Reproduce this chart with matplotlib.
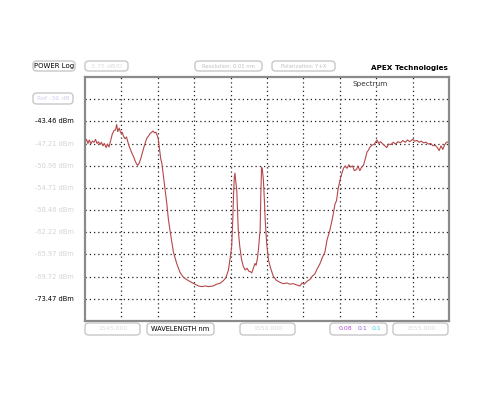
import matplotlib
matplotlib.use("Agg")
import matplotlib.pyplot as plt
from matplotlib.patches import FancyBboxPatch

# Spectrum trace (wavelength nm, power dBm)
wavelength = [
    1545.00, 1545.04, 1545.08, 1545.12, 1545.16, 1545.20, 1545.25, 1545.29,
    1545.33, 1545.37, 1545.41, 1545.45, 1545.49, 1545.53, 1545.58, 1545.62,
    1545.66, 1545.70, 1545.75, 1545.80, 1545.84, 1545.87, 1545.90, 1545.94,
    1545.98, 1546.02, 1546.06, 1546.10, 1546.14, 1546.18, 1546.22, 1546.26,
    1546.30, 1546.34, 1546.38, 1546.42, 1546.45, 1546.49, 1546.53, 1546.57,
    1546.62, 1546.66, 1546.70, 1546.75, 1546.79, 1546.83, 1546.87, 1546.91,
    1546.95, 1546.98, 1547.01, 1547.04, 1547.08, 1547.11, 1547.15, 1547.20,
    1547.25, 1547.29, 1547.35, 1547.43, 1547.52, 1547.61, 1547.70, 1547.79,
    1547.90, 1548.02, 1548.12, 1548.21, 1548.30, 1548.40, 1548.52, 1548.62,
    1548.72, 1548.80, 1548.87, 1548.94, 1548.99, 1549.03, 1549.06, 1549.08,
    1549.10, 1549.12, 1549.14, 1549.17, 1549.19, 1549.21, 1549.25, 1549.30,
    1549.35, 1549.40, 1549.45, 1549.50, 1549.55, 1549.58, 1549.62, 1549.67,
    1549.70, 1549.74, 1549.77, 1549.80, 1549.81, 1549.83, 1549.85, 1549.87,
    1549.90, 1549.93, 1549.95, 1549.99, 1550.04, 1550.10, 1550.17, 1550.25,
    1550.36, 1550.45, 1550.55, 1550.63, 1550.72, 1550.80, 1550.91, 1550.96,
    1551.02, 1551.10, 1551.18, 1551.25, 1551.31, 1551.37, 1551.45, 1551.52,
    1551.59, 1551.65, 1551.73, 1551.80, 1551.87, 1551.91, 1551.95, 1552.01,
    1552.06, 1552.10, 1552.15, 1552.20, 1552.25, 1552.30, 1552.35, 1552.40,
    1552.46, 1552.50, 1552.55, 1552.60, 1552.65, 1552.70, 1552.75, 1552.78,
    1552.82, 1552.88, 1552.93, 1552.97, 1553.02, 1553.07, 1553.12, 1553.18,
    1553.24, 1553.29, 1553.34, 1553.40, 1553.47, 1553.53, 1553.60, 1553.67,
    1553.73, 1553.80, 1553.86, 1553.92, 1554.00, 1554.06, 1554.12, 1554.18,
    1554.24, 1554.30, 1554.37, 1554.43, 1554.50, 1554.56, 1554.62, 1554.68,
    1554.73, 1554.78, 1554.83, 1554.88, 1554.93, 1555.00,
]
power_dbm = [
    -46.9, -46.5, -47.2, -46.6, -47.3, -46.8, -47.0, -46.5,
    -47.2, -46.9, -47.4, -47.0, -47.6, -47.2, -47.9, -47.3,
    -47.8, -46.8, -45.6, -45.0, -44.9, -44.0, -45.2, -44.6,
    -45.4, -45.3, -46.0, -46.4, -46.1, -47.0, -47.8, -48.4,
    -49.0, -49.5, -50.2, -50.7, -50.9, -50.5, -49.8, -48.9,
    -47.8, -47.0, -46.3, -45.9, -45.5, -45.3, -45.1, -45.4,
    -45.3, -45.8, -46.3, -47.8, -49.8, -50.5, -52.5, -55.0,
    -57.5, -60.0, -62.5, -65.6, -67.5, -69.0, -69.8, -70.2,
    -70.6, -71.0, -71.3, -71.4, -71.3, -71.4, -71.3, -71.0,
    -70.8, -70.4, -69.9, -68.6, -66.5, -64.6, -60.0, -56.0,
    -53.0, -52.2, -53.5, -55.2, -58.5, -61.8, -64.5, -66.8,
    -68.0, -68.6, -68.3, -68.8, -68.9, -69.1, -68.4, -67.5,
    -67.8, -66.5, -64.8, -62.5, -62.3, -56.0, -51.2, -51.5,
    -53.3, -57.0, -60.1, -64.0, -66.9, -68.3, -69.6, -70.3,
    -70.7, -70.9, -70.8, -71.0, -70.9, -71.1, -71.3, -70.8,
    -71.0, -70.5, -70.2, -69.6, -69.3, -68.5, -67.6, -66.5,
    -65.6, -63.5, -61.8, -59.8, -57.4, -56.9, -55.0, -53.3,
    -52.2, -51.4, -51.0, -51.4, -50.8, -51.2, -51.0, -51.8,
    -51.6, -51.0, -51.8, -51.2, -50.9, -49.8, -48.6, -48.4,
    -47.9, -47.5, -47.4, -47.1, -46.6, -47.2, -46.9, -47.3,
    -47.6, -47.9, -47.3, -47.4, -47.0, -47.3, -46.9, -47.1,
    -46.7, -47.0, -46.6, -46.9, -46.5, -46.8, -46.7, -47.0,
    -46.8, -47.1, -47.0, -47.3, -47.2, -47.6, -47.5, -47.9,
    -48.4, -47.6, -48.2, -47.4, -47.0, -46.9,
]

# screen scale: 10 x-divisions, 11 y-divisions of 3.75 dB
x_start, x_stop = 1545.0, 1555.0
y_top, y_bottom = -35.96, -77.22
grid_levels = [-39.71, -43.46, -47.21, -50.96, -54.71, -58.46,
               -62.22, -65.97, -69.72, -73.47]
level_labels = ["-43.46 dBm", "-47.21 dBm", "-50.96 dBm", "-54.71 dBm",
                "-58.46 dBm", "-62.22 dBm", "-65.97 dBm", "-69.72 dBm",
                "-73.47 dBm"]
bold_labels = {"-43.46 dBm", "-73.47 dBm"}

W, H = 500, 404
fig = plt.figure(figsize=(5.0, 4.04), dpi=100)
fig.patch.set_facecolor("white")

ax = fig.add_axes([85 / W, 1 - 321 / H, (449 - 85) / W, (321 - 77) / H])
ax.plot(wavelength, power_dbm, color="#b5474a", lw=0.8)
ax.set_xlim(x_start, x_stop)
ax.set_ylim(y_bottom, y_top)
ax.set_xticks([x_start + i for i in range(1, 10)])
ax.set_yticks(grid_levels)
ax.grid(True, color="#222222", linestyle=(0, (1.0, 2.4)), lw=0.9)
ax.tick_params(length=0, labelleft=False, labelbottom=False)
for s in ax.spines.values():
    s.set_color("#8a8a8a")
    s.set_linewidth(1.6)
ax.text(0.783, 0.985, "Spectrum", transform=ax.transAxes, ha="center",
        va="top", fontsize=5.2, color="#333333")


def box(x0, x1, y0, y1, text, color="#c8c8c8", weight="normal", size=5):
    p = FancyBboxPatch((x0 / W, 1 - y1 / H), (x1 - x0) / W, (y1 - y0) / H,
                       boxstyle="round,pad=0,rounding_size=0.008",
                       transform=fig.transFigure, fc="white",
                       ec="#c8c8c8", lw=1.0)
    fig.patches.append(p)
    fig.text((x0 + x1) / 2 / W, 1 - (y0 + y1) / 2 / H, text, ha="center",
             va="center", fontsize=size, color=color, weight=weight)


box(33, 75, 61, 71, "POWER Log", color="black", size=5)
box(85, 128, 61, 71, "3.75 dB/D", color="#dcdcdc", size=4.5)
box(195, 262, 61, 71, "Resolution: 0.01 nm", color="#c0c0c0", size=3.8)
box(272, 335, 61, 71, "Polarization: Y+X", color="#c0c0c0", size=3.8)
box(33, 73, 93, 104, "Ref -36 dB", color="#d0d0f0", size=4.5)

box(85, 140, 323, 335, "1545.000", color="#dcdcdc", size=4.5)
box(147, 214, 323, 335, "WAVELENGTH nm", color="black", size=4.8)
box(240, 295, 323, 335, "1550.000", color="#d8d8d8", size=4.5)
box(393, 448, 323, 335, "1555.000", color="#d8d8e0", size=4.5)

# coloured marker readout box
p = FancyBboxPatch((330 / W, 1 - 335 / H), 57 / W, 12 / H,
                   boxstyle="round,pad=0,rounding_size=0.008",
                   transform=fig.transFigure, fc="white", ec="#c8c8c8", lw=1.0)
fig.patches.append(p)
fig.text(345 / W, 1 - 329 / H, "0.08", ha="center", va="center",
         fontsize=4.5, color="#b04ad8")
fig.text(362 / W, 1 - 329 / H, "0.1", ha="center", va="center",
         fontsize=4.5, color="#9b5fd0")
fig.text(377 / W, 1 - 329 / H, "0.1", ha="center", va="center",
         fontsize=4.5, color="#40d0d8")

fig.text(409 / W, 1 - 68 / H, "APEX Technologies", ha="center",
         va="center", fontsize=5.2, weight="bold", color="black")

# level labels on the left
for lvl, lab in zip(grid_levels[1:], level_labels):
    yf = ax.transData.transform((x_start, lvl))[1] / fig.bbox.height
    if lab in bold_labels:
        fig.text(54 / W, yf, lab, ha="center", va="center", fontsize=4.8,
                 color="black")
    else:
        fig.text(54 / W, yf, lab, ha="center", va="center", fontsize=4.8,
                 color="#d4d4d4")

fig.savefig("out.png", dpi=100, facecolor="white")
